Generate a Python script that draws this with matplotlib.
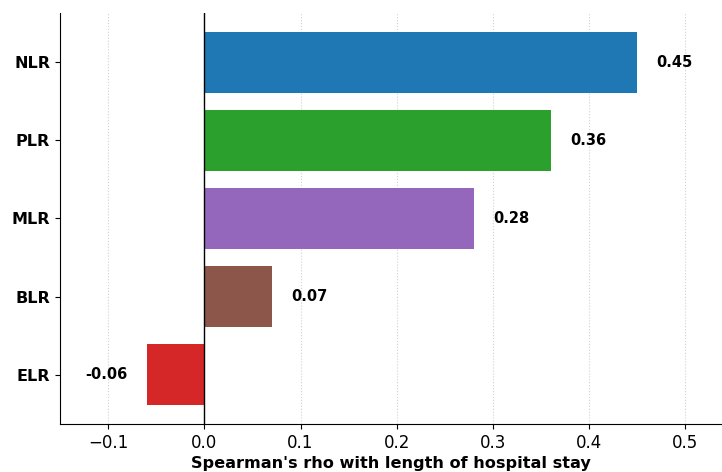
import matplotlib
matplotlib.use("Agg")
import matplotlib.pyplot as plt

markers = ["NLR", "PLR", "MLR", "BLR", "ELR"]
rho = [0.45, 0.36, 0.28, 0.07, -0.06]
colors = ["tab:blue", "tab:green", "tab:purple", "tab:brown", "tab:red"]

fig = plt.figure(figsize=(7.22, 4.72), dpi=100)
ax = fig.add_axes([0.083, 0.1017, 0.917, 0.8708])

ypos = list(range(len(markers)))
ax.barh(ypos, rho, color=colors, height=0.78, zorder=2)
ax.invert_yaxis()
ax.set_yticks(ypos)
ax.set_yticklabels(markers, fontsize=11.5, fontweight="bold")

# value labels just past the end of each bar
for y, v in zip(ypos, rho):
    if v >= 0:
        ax.text(v + 0.02, y, f"{v:.2f}", va="center", ha="left", fontsize=10.5, fontweight="bold")
    else:
        ax.text(v - 0.02, y, f"{v:.2f}", va="center", ha="right", fontsize=10.5, fontweight="bold")

ax.axvline(0, color="black", linewidth=1, zorder=3)
ax.grid(axis="x", linestyle=":", color="#d0d0d0", linewidth=0.8, zorder=0)
ax.set_axisbelow(True)
ax.set_xlim(-0.15, 0.538)
ax.tick_params(axis="x", labelsize=12)
ax.set_xlabel("Spearman's rho with length of hospital stay", fontsize=11.6, fontweight="bold", labelpad=3)
ax.spines["top"].set_visible(False)
ax.spines["right"].set_visible(False)

fig.savefig("out.png", dpi=100)
